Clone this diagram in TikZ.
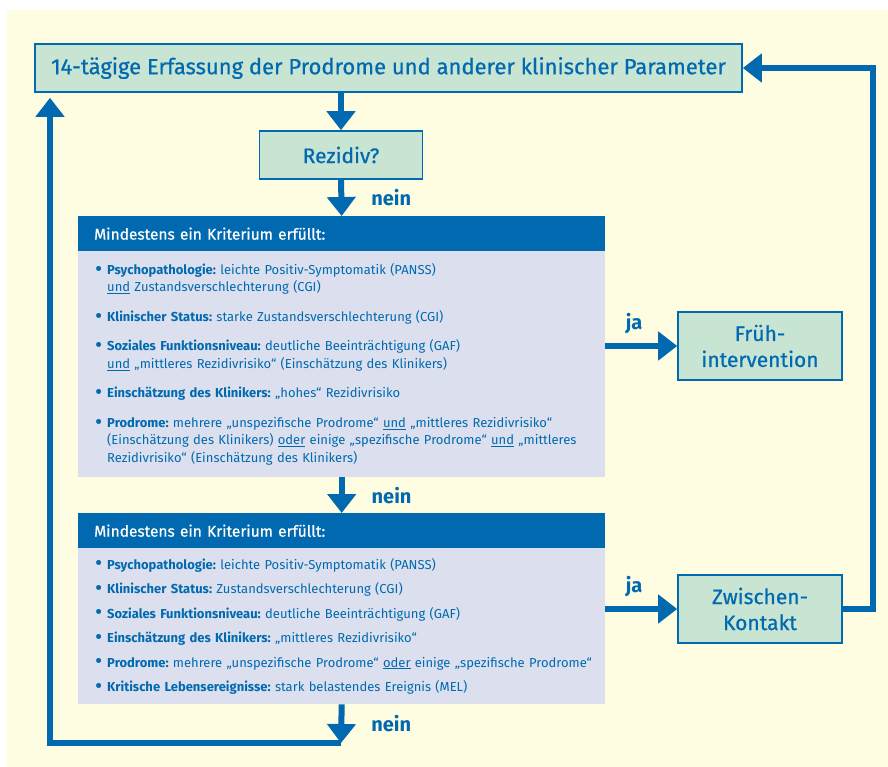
\documentclass[tikz,border=0pt]{standalone}
\usepackage{fontspec}
\setmainfont{Fira Sans}
\newfontfamily\medfont[FakeBold=0.6]{Fira Sans}
\usetikzlibrary{arrows.meta,positioning,calc}

\newcommand{\bul}{\makebox[12pt][l]{\raisebox{-0.25ex}{\scalebox{1.7}{\textbullet}}}}
\newcommand{\ind}{\hspace*{12pt}}
\newcommand{\ul}[1]{\underline{#1}}

\begin{document}
\frenchspacing
\begin{tikzpicture}[x=1pt,y=-1pt, font=\fontsize{13}{17.5}\selectfont]
		\definecolor{bluebase}{RGB}{0,105,176}
		\definecolor{bgcolor}{RGB}{255,253,225}
		\definecolor{boxcolor}{RGB}{200,228,210}
		\definecolor{listcolor}{RGB}{220,224,238}
		\tikzset{stepbox/.style={draw=bluebase,line width=1.6pt,fill=boxcolor,text=bluebase,align=center,inner sep=0pt,font=\medfont\fontsize{21}{26}\selectfont}}
		\tikzset{hdr/.style={anchor=north west,fill=bluebase,text=white,minimum height=35pt,text width=495pt,inner xsep=16pt,inner ysep=0pt,align=left,font=\medfont\fontsize{15.5}{18}\selectfont}}
		\tikzset{lst/.style={anchor=north west,fill=listcolor,text=bluebase,text width=493pt,inner xsep=17pt,inner ysep=0pt,align=left}}
		\tikzset{lbl/.style={text=bluebase,inner sep=0pt,font=\bfseries\fontsize{20}{20}\selectfont}}
		\tikzset{flow/.style={-{Triangle[width=28pt,length=19pt]},line width=6pt,draw=bluebase,line join=miter}}

		% Background
		\useasboundingbox (0,0) rectangle (888,767);
		\fill[white] (0,0) rectangle (888,767);
		\fill[bgcolor] (7,10) rectangle (888,767);

		% Monitoring
		\node[stepbox,minimum width=707pt,minimum height=48pt,font=\medfont\fontsize{22}{26}\selectfont] (top) at (388.5,68) {14-tägige Erfassung der Prodrome und anderer klinischer Parameter};

		% Relapse
		\node[stepbox,minimum width=163pt,minimum height=48pt] (rez) at (341,155) {Rezidiv?};

		% First criteria list
		\node[hdr] (hdrA) at (78,216) {Mindestens ein Kriterium erfüllt:};
		\node[lst,minimum height=226pt] (bodyA) at (78,251) {%
			\bul\textbf{Psychopathologie:} leichte Positiv-Symptomatik (PANSS)\\
			\ind\ul{und} Zustandsverschlechterung (CGI)\\[12pt]
			\bul\textbf{Klinischer Status:} starke Zustandsverschlechterung (CGI)\\[12pt]
			\bul\textbf{Soziales Funktionsniveau:} deutliche Beeinträchtigung (GAF)\\
			\ind\ul{und} „mittleres Rezidivrisiko“ (Einschätzung des Klinikers)\\[12pt]
			\bul\textbf{Einschätzung des Klinikers:} „hohes“ Rezidivrisiko\\[12pt]
			\bul\textbf{Prodrome:} mehrere „unspezifische Prodrome“ \ul{und} „mittleres Rezidivrisiko“\\
			\ind\mbox{(Einschätzung des Klinikers) \ul{oder} einige „spezifische Prodrome“ \ul{und} „mittleres}\\
			\ind Rezidivrisiko“ (Einschätzung des Klinikers)};

		% Second criteria list
		\node[hdr] (hdrB) at (78,513) {Mindestens ein Kriterium erfüllt:};
		\node[lst,minimum height=156pt] (bodyB) at (78,548) {%
			\bul\textbf{Psychopathologie:} leichte Positiv-Symptomatik (PANSS)\\[7pt]
			\bul\textbf{Klinischer Status:} Zustandsverschlechterung (CGI)\\[7pt]
			\bul\textbf{Soziales Funktionsniveau:} deutliche Beeinträchtigung (GAF)\\[7pt]
			\bul\textbf{Einschätzung des Klinikers:} „mittleres Rezidivrisiko“\\[7pt]
			\mbox{\bul\textbf{Prodrome:} mehrere „unspezifische Prodrome“ \ul{oder} einige „spezifische Prodrome“}\\[7pt]
			\bul\textbf{Kritische Lebensereignisse:} stark belastendes Ereignis (MEL)};

		% Interventions
		\node[stepbox,minimum width=164pt,minimum height=68pt] (frueh) at (760,346) {Früh-\\intervention};
		\node[stepbox,minimum width=164pt,minimum height=68pt] (zw) at (760,609) {Zwischen-\\Kontakt};

		% Loop corners
		\coordinate (loopA) at (341,743);
		\coordinate (loopB) at (50,743);
		\coordinate (loopC) at (873,68);

		% Arrows
		\draw[flow] (top.south -| rez) -- (rez.north);
		\draw[flow] (rez.south) -- node[lbl,right=27pt] {nein} (hdrA.north);
		\draw[flow] (bodyA.south) -- node[lbl,right=27pt] {nein} (hdrB.north);
		\draw[flow] (bodyB.south) -- node[lbl,right=27pt] {nein} (loopA);
		\draw[flow,shorten >=5pt] (loopA) -- (loopB) -- (top.south -| loopB);
		\draw[flow] (frueh.west -| bodyA.east) -- node[lbl,pos=0.4,above=9pt] {ja} (frueh.west);
		\draw[flow] (zw.west -| bodyB.east) -- node[lbl,pos=0.4,above=9pt] {ja} (zw.west);
		\draw[flow] (zw.east) -| (loopC) -- (top.east);
	\end{tikzpicture}
\end{document}
